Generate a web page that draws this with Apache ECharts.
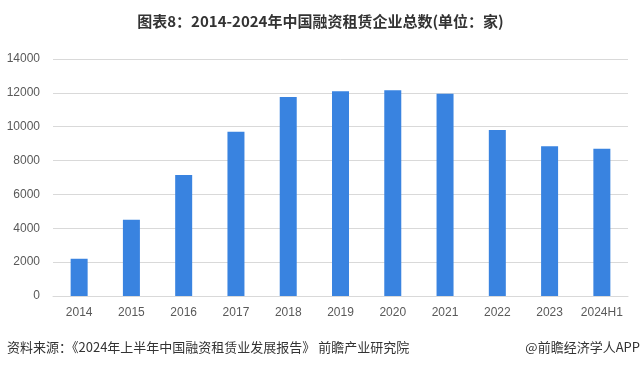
<!DOCTYPE html>
<html><head><meta charset="utf-8">
<script src="https://cdn.jsdelivr.net/npm/echarts@6/dist/echarts.min.js"></script>
<style>html,body{margin:0;padding:0;background:#fff}#c{width:641px;height:370px}</style>
</head><body><div id="c"></div>
<script>
const categories = ['2014','2015','2016','2017','2018','2019','2020','2021','2022','2023','2024H1'];
const companyCounts = [2200, 4500, 7150, 9700, 11750, 12100, 12150, 11950, 9800, 8850, 8700];
const titleText = '图表8：2014-2024年中国融资租赁企业总数(单位：家)';
const sourceText = '资料来源：《2024年上半年中国融资租赁业发展报告》 前瞻产业研究院';
const creditText = '@前瞻经济学人APP';

const chart = echarts.init(document.getElementById('c'), null, {renderer:'canvas'});
chart.setOption({
  animation:false,
  backgroundColor:'#fff',
  title:{text:titleText,left:'center',top:9,textStyle:{fontFamily:'Noto Sans CJK SC',fontSize:15,fontWeight:'bold',color:'#333'}},
  graphic:[
    {type:'text',left:7,top:341,style:{text:sourceText,fontFamily:'Noto Sans CJK SC',fontSize:13,fill:'#333'}},
    {type:'text',right:1,top:341,style:{text:creditText,fontFamily:'Noto Sans CJK SC',fontSize:13,fill:'#333'}}
  ],
  grid:{left:53,right:13,top:59,bottom:74,containLabel:false},
  xAxis:{type:'category',data:categories,
    axisLine:{lineStyle:{color:'#d9d9d9'}},axisTick:{show:false},
    axisLabel:{interval:0,color:'#595959',fontFamily:'Liberation Sans',fontSize:12,margin:11}},
  yAxis:{type:'value',min:0,max:14000,interval:2000,
    axisLine:{show:false},axisTick:{show:false},
    splitLine:{lineStyle:{color:'#d9d9d9'}},
    axisLabel:{color:'#595959',fontFamily:'Liberation Sans',fontSize:12,margin:13,formatter:v=>String(v)}},
  series:[{type:'bar',data:companyCounts,barWidth:17,itemStyle:{color:'#3983e0'}}]
});
</script></body></html>
